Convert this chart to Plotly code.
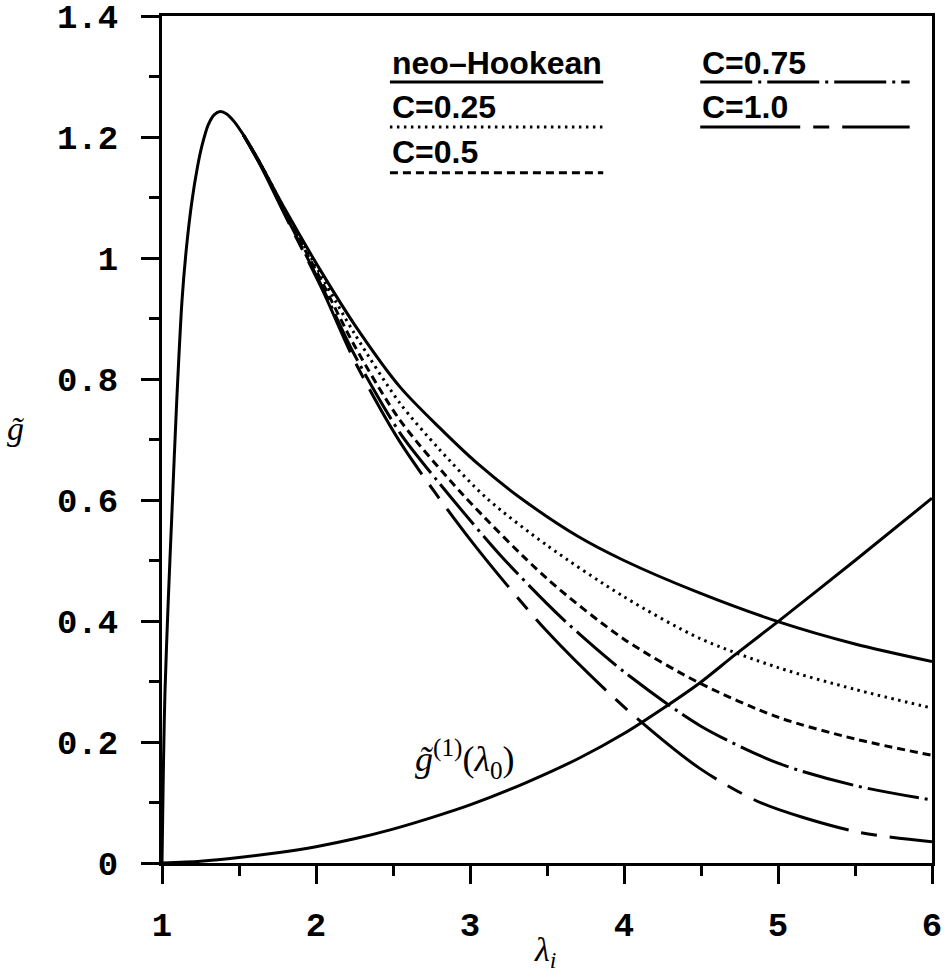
import plotly.graph_objects as go

# ---------------- data ----------------
neo_x = [1.0, 1.004, 1.01, 1.019, 1.04, 1.063, 1.095, 1.13, 1.16, 1.195, 1.23, 1.26, 1.30, 1.34, 1.378,
         1.42, 1.47, 1.53, 1.59, 1.65, 1.8, 2.04, 2.25, 2.545, 2.8, 3.05, 3.346, 3.7, 4.0, 4.494,
         5.0, 5.5, 6.0]
neo_y = [0.0, 0.07, 0.17, 0.28, 0.43, 0.57, 0.76, 0.93, 1.02, 1.095, 1.15, 1.186, 1.22, 1.237, 1.242,
         1.238, 1.225, 1.203, 1.178, 1.151, 1.08, 0.975, 0.89, 0.787, 0.72, 0.66, 0.60, 0.54, 0.50, 0.446,
         0.399, 0.362, 0.333]

c025_x = [1.53, 1.65, 1.8, 2.04, 2.25, 2.545, 2.8, 3.108, 3.5, 4.0, 4.494, 5.0, 5.5, 6.0]
c025_y = [1.203, 1.151, 1.078, 0.968, 0.875, 0.76, 0.684, 0.603, 0.525, 0.44, 0.371, 0.323, 0.287, 0.256]

c05_x = [1.53, 1.65, 1.8, 2.04, 2.25, 2.545, 2.957, 3.5, 4.0, 4.494, 5.0, 5.5, 6.0]
c05_y = [1.203, 1.150, 1.075, 0.96, 0.855, 0.732, 0.608, 0.47, 0.37, 0.297, 0.241, 0.205, 0.178]

c075_x = [1.53, 1.65, 1.8, 2.04, 2.25, 2.545, 2.784, 3.2, 3.6, 4.0, 4.494, 5.0, 5.5, 6.0]
c075_y = [1.203, 1.149, 1.072, 0.952, 0.84, 0.711, 0.633, 0.508, 0.404, 0.316, 0.227, 0.165, 0.128, 0.104]

c10_x = [1.53, 1.65, 1.8, 2.04, 2.25, 2.545, 3.0, 3.5, 4.0, 4.494, 4.894, 5.5, 6.0]
c10_y = [1.203, 1.148, 1.07, 0.948, 0.83, 0.696, 0.535, 0.383, 0.258, 0.156, 0.099, 0.052, 0.035]

g1_x = [1.0, 1.25, 1.5, 1.75, 2.0, 2.25, 2.5, 2.75, 3.0, 3.365, 3.714, 4.0, 4.25, 4.494, 4.72, 5.0, 5.5, 6.0]
g1_y = [0.0, 0.003, 0.009, 0.017, 0.027, 0.04, 0.056, 0.075, 0.096, 0.133, 0.174, 0.214, 0.255, 0.298, 0.344, 0.399, 0.50, 0.603]

legend_labels = ["neo\u2013Hookean", "C=0.25", "C=0.5", "C=0.75", "C=1.0"]

# ---------------- styles ----------------
LW = 3
styles = [
    "solid",
    "2.5px,4.5px",
    "8px,5px",
    "52px,6px,3px,6px",
    "100px,13px,16px,13px",
]

fig = go.Figure()
series = [(neo_x, neo_y), (c025_x, c025_y), (c05_x, c05_y), (c075_x, c075_y), (c10_x, c10_y)]
for (xs, ys), dash in zip(series, styles):
    fig.add_trace(go.Scatter(x=xs, y=ys, mode="lines",
                             line=dict(color="black", width=LW, dash=dash, shape="spline", smoothing=0.8),
                             showlegend=False, hoverinfo="skip"))
fig.add_trace(go.Scatter(x=g1_x, y=g1_y, mode="lines",
                         line=dict(color="black", width=LW, shape="spline", smoothing=0.8),
                         showlegend=False, hoverinfo="skip"))

# ---------------- custom legend (text above line samples) ----------------
legend_pos = [  # (x0, x1, line_y, text_y) in paper coords
    (0.296, 0.573, 0.922, 0.945),
    (0.296, 0.573, 0.869, 0.893),
    (0.296, 0.573, 0.815, 0.839),
    (0.699, 0.971, 0.922, 0.945),
    (0.699, 0.971, 0.869, 0.893),
]
shapes = []
annotations = []
for lab, dash, (x0, x1, ly, ty) in zip(legend_labels, styles, legend_pos):
    shapes.append(dict(type="line", xref="paper", yref="paper", x0=x0, x1=x1, y0=ly, y1=ly,
                       line=dict(color="black", width=LW, dash=dash)))
    annotations.append(dict(xref="paper", yref="paper", x=x0, y=ty, text=lab, showarrow=False,
                            xanchor="left", yanchor="middle",
                            font=dict(family="Liberation Sans", size=32, color="black", weight="bold")))

annotations.append(dict(xref="x", yref="y", x=2.97, y=0.172,
                        text="<i>g\u0303</i><sup>(1)</sup>(<i>\u03bb</i><sub>0</sub>)",
                        showarrow=False, xanchor="center", yanchor="middle",
                        font=dict(family="Liberation Serif", size=36, color="black")))
annotations.append(dict(xref="paper", yref="paper", x=-0.19, y=0.513, text="<i>g\u0303</i>",
                        showarrow=False, xanchor="center", yanchor="middle",
                        font=dict(family="Liberation Serif", size=34, color="black")))
annotations.append(dict(xref="paper", yref="paper", x=0.497, y=-0.105, text="<i>\u03bb<sub>i</sub></i>",
                        showarrow=False, xanchor="center", yanchor="middle",
                        font=dict(family="Liberation Serif", size=34, color="black")))

tickfont = dict(family="Liberation Mono", size=34, color="black", weight="bold")
fig.update_layout(
    width=950, height=976,
    margin=dict(l=162, r=18, t=16, b=113, autoexpand=False),
    paper_bgcolor="white", plot_bgcolor="white",
    shapes=shapes, annotations=annotations,
    xaxis=dict(range=[1, 6], tickmode="linear", tick0=1, dtick=1, automargin=False,
               ticklabeloverflow="allow",
               showgrid=False, zeroline=False, showline=True, mirror=True,
               linecolor="black", linewidth=LW,
               ticks="outside", ticklen=18, tickwidth=LW, tickcolor="black",
               ticklabelstandoff=11,
               minor=dict(dtick=0.5, ticks="outside", ticklen=10, tickwidth=LW, tickcolor="black", showgrid=False),
               tickfont=tickfont),
    yaxis=dict(range=[0, 1.4], tickmode="linear", tick0=0, dtick=0.2, automargin=False,
               ticklabeloverflow="allow",
               showgrid=False, zeroline=False, showline=True, mirror=True,
               linecolor="black", linewidth=LW,
               ticks="outside", ticklen=18, tickwidth=LW, tickcolor="black",
               ticklabelstandoff=16,
               minor=dict(dtick=0.1, ticks="outside", ticklen=10, tickwidth=LW, tickcolor="black", showgrid=False),
               tickfont=tickfont),
)

fig.write_html("out.html")
